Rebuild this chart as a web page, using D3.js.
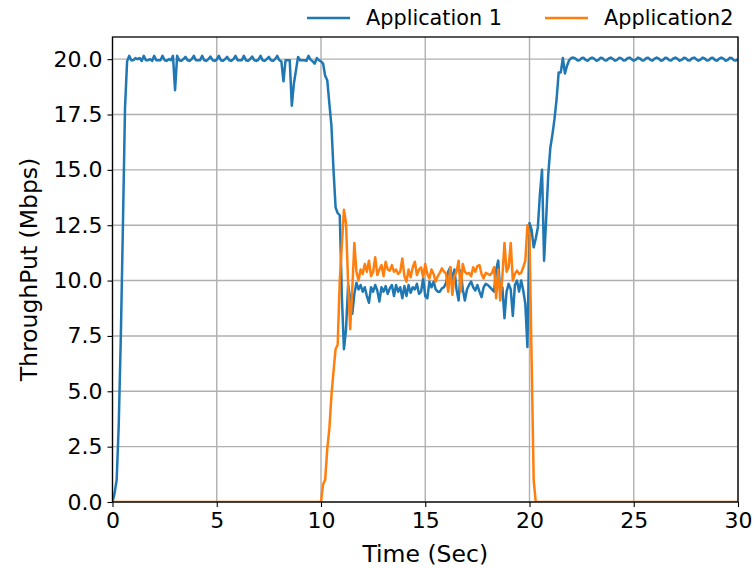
<!DOCTYPE html>
<html>
<head>
<meta charset="utf-8">
<script src="https://cdn.jsdelivr.net/npm/d3@7"></script>
<style>
  body { margin: 0; background: #fff; }
  svg { font-family: "DejaVu Sans", sans-serif; }
</style>
</head>
<body>
<div id="chart"></div>
<script>
// series names and sample spacing (seconds)
const seriesNames = ["Application 1", "Application2"];
const sampleStep = 0.1;

// Application 1 throughput (Mbps), one row per second
const app1 = [
  0, 0.4, 1.0, 3.5, 7.5, 12.5, 17.8, 19.9, 20.15, 19.95,
  19.95, 20.05, 20.0, 20.05, 19.92, 20.15, 19.95, 19.95, 20.0, 19.92,
  20.15, 19.95, 19.95, 19.95, 20.15, 19.95, 19.92, 20.0, 19.95, 20.15,
  18.6, 20.15, 19.95, 19.92, 20.0, 20.1, 19.95, 19.92, 20.0, 20.15,
  19.95, 19.95, 19.95, 20.15, 19.95, 19.92, 20.0, 20.12, 19.95, 19.92,
  19.98, 20.15, 19.95, 19.92, 20.0, 20.1, 19.95, 19.92, 20.0, 20.15,
  19.95, 19.95, 19.95, 20.15, 19.95, 19.92, 20.0, 20.12, 19.95, 19.92,
  19.98, 20.15, 19.95, 19.92, 20.0, 20.1, 19.95, 19.92, 20.0, 20.15,
  19.95, 19.9, 19.0, 19.95, 19.95, 19.95, 17.9, 18.9, 19.5, 20.1,
  19.95, 19.95, 19.95, 19.92, 20.15, 19.98, 19.9, 19.8, 20.05, 19.95,
  19.9, 19.8, 19.25, 19.05, 18.0, 17.0, 15.0, 13.3, 13.05, 12.95,
  9.3, 6.9, 7.8, 9.8, 9.2, 8.5, 9.4, 9.9, 9.6, 9.8,
  9.5, 9.7, 9.3, 9.0, 9.7, 9.5, 9.8, 9.55, 9.05, 9.7,
  9.5, 9.75, 9.4, 9.65, 9.8, 9.3, 9.8, 9.5, 9.7, 9.2,
  9.75, 9.3, 9.8, 9.45, 9.7, 9.6, 9.85, 9.4, 9.5, 10.1,
  9.3, 9.2, 9.95, 9.7, 9.95, 9.6, 9.5, 9.5, 9.65, 9.7,
  9.9, 10.4, 10.6, 10.0, 10.5, 9.6, 9.1, 10.45, 9.6, 9.1,
  9.6, 9.8, 9.95, 9.7, 9.55, 9.8, 9.5, 9.25, 9.7, 9.85,
  9.8, 9.7, 9.6, 9.5, 10.5, 10.9, 9.4, 9.7, 8.3, 9.5,
  9.85, 9.6, 8.4, 9.8, 10.0, 9.5, 10.0, 9.55, 8.95, 7.0,
  12.6, 12.3, 11.5, 11.9, 12.4, 13.9, 15.0, 10.9, 12.8, 14.8,
  16.0, 16.6, 17.3, 18.2, 19.4, 19.4, 20.05, 19.35, 19.7, 19.95,
  20.05, 20.07, 20.03, 19.94, 19.95, 20.05, 20.06, 19.96, 19.93, 20.02,
  20.07, 20.02, 19.93, 19.96, 20.06, 20.05, 19.95, 19.94, 20.03, 20.07,
  20.01, 19.93, 19.97, 20.06, 20.04, 19.94, 19.95, 20.04, 20.07, 20.0,
  19.93, 19.98, 20.07, 20.03, 19.94, 19.95, 20.05, 20.06, 19.97, 19.93,
  20.02, 20.07, 20.02, 19.93, 19.96, 20.06, 20.05, 19.95, 19.94, 20.03,
  20.07, 20.01, 19.93, 19.97, 20.06, 20.04, 19.94, 19.95, 20.04, 20.07,
  20.0, 19.93, 19.98, 20.07, 20.03, 19.94, 19.95, 20.05, 20.06, 19.96,
  19.93, 20.02, 20.07, 20.02, 19.93, 19.96, 20.06, 20.05, 19.95, 19.94,
  20.0
];

// Application2 throughput (Mbps), one row per second
const app2 = [
  0, 0, 0, 0, 0, 0, 0, 0, 0, 0,
  0, 0, 0, 0, 0, 0, 0, 0, 0, 0,
  0, 0, 0, 0, 0, 0, 0, 0, 0, 0,
  0, 0, 0, 0, 0, 0, 0, 0, 0, 0,
  0, 0, 0, 0, 0, 0, 0, 0, 0, 0,
  0, 0, 0, 0, 0, 0, 0, 0, 0, 0,
  0, 0, 0, 0, 0, 0, 0, 0, 0, 0,
  0, 0, 0, 0, 0, 0, 0, 0, 0, 0,
  0, 0, 0, 0, 0, 0, 0, 0, 0, 0,
  0, 0, 0, 0, 0, 0, 0, 0, 0, 0,
  0, 0.8, 1.0, 2.4, 3.3, 4.8, 5.9, 6.9, 7.1, 10.0,
  11.6, 13.2, 12.6, 9.9, 7.8, 9.6, 11.7, 10.4, 10.0, 10.5,
  10.3, 10.75, 10.4, 10.9, 10.2, 10.4, 11.05, 10.25, 10.5, 10.7,
  10.2, 10.85, 10.5, 10.45, 10.7, 10.4, 10.5, 10.3, 10.4, 11.0,
  10.2, 9.95, 10.5, 10.15, 10.6, 10.85, 10.25, 10.5, 10.6, 10.15,
  10.75, 10.3, 10.1, 10.5, 10.3, 9.95, 10.2, 10.35, 10.55, 10.4,
  10.3, 9.5, 10.6, 9.35, 10.2, 10.4, 10.9, 9.5, 10.75, 10.4,
  10.3, 10.35, 10.2, 10.6, 10.4, 10.65, 10.7, 10.3, 10.1, 10.35,
  10.3, 10.25, 10.35, 10.6, 9.2, 10.5, 9.1, 10.2, 11.7, 10.4,
  10.6, 11.7, 10.0, 10.3, 10.45, 10.3, 10.35, 10.6, 10.9, 12.5,
  12.1, 6.5, 1.0, 0, 0, 0, 0, 0, 0, 0,
  0, 0, 0, 0, 0, 0, 0, 0, 0, 0,
  0, 0, 0, 0, 0, 0, 0, 0, 0, 0,
  0, 0, 0, 0, 0, 0, 0, 0, 0, 0,
  0, 0, 0, 0, 0, 0, 0, 0, 0, 0,
  0, 0, 0, 0, 0, 0, 0, 0, 0, 0,
  0, 0, 0, 0, 0, 0, 0, 0, 0, 0,
  0, 0, 0, 0, 0, 0, 0, 0, 0, 0,
  0, 0, 0, 0, 0, 0, 0, 0, 0, 0,
  0, 0, 0, 0, 0, 0, 0, 0, 0, 0,
  0
];

const xTicks = [0, 5, 10, 15, 20, 25, 30];
const yTicks = [0, 2.5, 5, 7.5, 10, 12.5, 15, 17.5, 20];
const colors = ["#1f77b4", "#ff7f0e"];

const width = 754, height = 569;
const margin = { top: 37, right: 16, bottom: 67, left: 112.5 };
const innerW = width - margin.left - margin.right;
const innerH = height - margin.top - margin.bottom;

const svg = d3.select("#chart")
  .append("svg")
  .attr("width", width)
  .attr("height", height);

const x = d3.scaleLinear().domain([0, 30]).range([0, innerW]);
const y = d3.scaleLinear().domain([0, 21]).range([innerH, 0]);

const g = svg.append("g")
  .attr("transform", `translate(${margin.left},${margin.top})`);

// grid
g.append("g")
  .selectAll("line")
  .data(xTicks)
  .join("line")
  .attr("x1", d => x(d)).attr("x2", d => x(d))
  .attr("y1", 0).attr("y2", innerH)
  .attr("stroke", "#b0b0b0").attr("stroke-width", 1.4);

g.append("g")
  .selectAll("line")
  .data(yTicks)
  .join("line")
  .attr("x1", 0).attr("x2", innerW)
  .attr("y1", d => y(d)).attr("y2", d => y(d))
  .attr("stroke", "#b0b0b0").attr("stroke-width", 1.4);

// clip lines to the plot area
svg.append("defs").append("clipPath")
  .attr("id", "plot-clip")
  .append("rect")
  .attr("width", innerW).attr("height", innerH);

const line = d3.line()
  .x((d, i) => x(i * sampleStep))
  .y(d => y(d));

g.append("g")
  .attr("clip-path", "url(#plot-clip)")
  .selectAll("path")
  .data([app1, app2])
  .join("path")
  .attr("fill", "none")
  .attr("stroke", (d, i) => colors[i])
  .attr("stroke-width", 2.5)
  .attr("stroke-linejoin", "round")
  .attr("d", line);

// axes
const xAxis = g.append("g")
  .attr("transform", `translate(0,${innerH})`)
  .call(d3.axisBottom(x).tickValues(xTicks).tickFormat(d3.format("d")).tickSizeOuter(0).tickSize(5).tickPadding(5));

const yAxis = g.append("g")
  .call(d3.axisLeft(y).tickValues(yTicks).tickFormat(d3.format(".1f")).tickSizeOuter(0).tickSize(5).tickPadding(5));

[xAxis, yAxis].forEach(a => {
  a.select(".domain").remove();
  a.selectAll("line").attr("stroke", "#000").attr("stroke-width", 1.1);
  a.selectAll("text")
    .attr("fill", "#000")
    .style("font-size", "22px")
    .style("font-family", "DejaVu Sans");
});

// frame
g.append("rect")
  .attr("width", innerW).attr("height", innerH)
  .attr("fill", "none")
  .attr("stroke", "#000")
  .attr("stroke-width", 1.3);

// axis labels
svg.append("text")
  .attr("x", margin.left + innerW / 2)
  .attr("y", 562)
  .attr("text-anchor", "middle")
  .style("font-size", "23.5px")
  .text("Time (Sec)");

svg.append("text")
  .attr("transform", `translate(37,${margin.top + innerH / 2}) rotate(-90)`)
  .attr("text-anchor", "middle")
  .style("font-size", "23.5px")
  .text("ThroughPut (Mbps)");

// legend above the plot, right aligned
const legendItems = [
  { name: seriesNames[0], color: colors[0], x0: 307 },
  { name: seriesNames[1], color: colors[1], x0: 545 }
];

const legend = svg.append("g").selectAll("g")
  .data(legendItems)
  .join("g")
  .attr("transform", d => `translate(${d.x0},18)`);

legend.append("line")
  .attr("x1", 0).attr("x2", 43)
  .attr("stroke", d => d.color)
  .attr("stroke-width", 2.5);

legend.append("text")
  .attr("x", 59)
  .attr("dy", "0.35em")
  .style("font-size", "20.8px")
  .text(d => d.name);
</script>
</body>
</html>
